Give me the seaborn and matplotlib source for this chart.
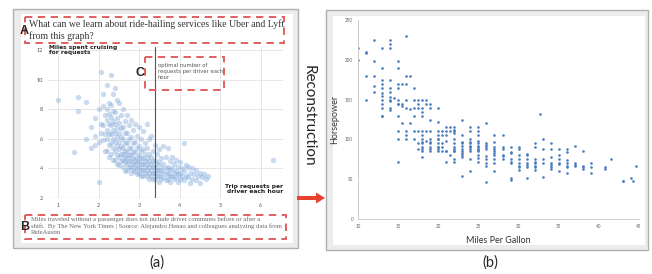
import pandas as pd
import seaborn as sns
import matplotlib.pyplot as plt
from matplotlib.patches import Rectangle, FancyArrow

# ---- panel (a): miles cruising vs trip requests ----
trip_levels = [1.0, 1.4, 1.5, 1.7, 1.8, 1.9,
               2.0, 2.05, 2.1, 2.15, 2.2, 2.25, 2.3, 2.35, 2.4, 2.45, 2.5, 2.55,
               2.6, 2.65, 2.7, 2.75, 2.8, 2.85, 2.9, 2.95, 3.0, 3.05, 3.1, 3.15,
               3.2, 3.25, 3.3, 3.35, 3.4, 3.45, 3.5, 3.55, 3.6, 3.65, 3.7, 3.75,
               3.8, 3.85, 3.9, 3.95, 4.0, 4.05, 4.1, 4.15, 4.2, 4.25, 4.3, 4.35,
               4.4, 4.45, 4.5, 4.55, 4.6, 4.65, 4.7, 6.3]
cruise_by_level = [
    [8.6], [5.1], [7.9, 8.8], [8.5, 6.0], [5.4, 6.8], [6.2, 7.4, 5.6],
    [3.1, 8.0, 5.8], [10.5, 6.4, 7.0],
    [8.2, 6.9, 5.9, 9.0], [7.6, 6.3, 5.2],
    [9.6, 8.0, 7.3, 6.6, 6.0, 5.2], [8.4, 7.7, 7.0, 6.3, 5.6, 4.8],
    [10.3, 8.3, 7.5, 6.9, 6.3, 5.7, 5.0], [9.0, 7.9, 7.2, 6.6, 6.0, 5.4, 4.6],
    [9.4, 7.8, 7.0, 6.4, 5.8, 5.2, 4.6], [8.6, 7.4, 6.7, 6.1, 5.5, 4.9, 4.3],
    [8.4, 7.1, 6.4, 5.8, 5.3, 4.8, 4.2], [7.6, 6.7, 6.1, 5.5, 5.0, 4.5],
    [8.0, 6.8, 6.0, 5.4, 5.0, 4.6, 4.1], [7.2, 6.4, 5.7, 5.2, 4.8, 4.4, 3.8],
    [7.6, 6.4, 5.7, 5.1, 4.7, 4.3, 3.9], [6.9, 6.0, 5.4, 4.9, 4.5, 4.1],
    [7.3, 6.1, 5.4, 4.9, 4.5, 4.1, 3.7], [6.6, 5.7, 5.1, 4.7, 4.3, 3.9],
    [7.0, 5.8, 5.1, 4.6, 4.2, 3.8], [6.2, 5.4, 4.8, 4.4, 4.0, 3.6],
    [6.8, 5.5, 4.9, 4.5, 4.1, 3.7], [6.0, 5.2, 4.7, 4.3, 3.9, 3.5],
    [6.5, 5.3, 4.7, 4.3, 3.9, 3.5], [5.7, 5.0, 4.5, 4.1, 3.7],
    [7.0, 5.4, 4.7, 4.3, 3.9, 3.5], [6.0, 5.0, 4.5, 4.1, 3.7, 3.3],
    [6.2, 4.8, 4.3, 3.9, 3.5], [5.2, 4.5, 4.1, 3.7, 3.3],
    [5.6, 4.6, 4.1, 3.7, 3.3], [5.0, 4.3, 3.9, 3.5],
    [5.3, 4.4, 3.9, 3.5, 3.1], [4.7, 4.1, 3.7, 3.3],
    [5.5, 4.3, 3.8, 3.4], [4.8, 4.0, 3.6, 3.2],
    [5.4, 4.1, 3.7, 3.3], [4.5, 3.9, 3.5, 3.1],
    [4.8, 4.0, 3.5], [4.3, 3.7, 3.3],
    [4.6, 3.8, 3.4], [4.1, 3.6, 3.1],
    [4.4, 3.7, 3.3], [4.0, 3.5],
    [5.7, 3.8, 3.2], [4.2, 3.5],
    [4.1, 3.4], [3.7, 3.0],
    [4.0, 3.3], [3.6],
    [3.9, 3.2], [3.5],
    [3.7, 3.0], [3.4],
    [3.6], [3.3],
    [3.5], [4.6],
]
a_xticks = [1, 2, 3, 4, 5, 6]
a_yticks = [2, 4, 6, 8, 10, 12]
optimal_trips = 3.4

# ---- panel (b): horsepower vs miles per gallon ----
mpg_levels = [10, 11, 12, 13, 14, 14.5, 15, 15.5, 16, 16.5, 17, 17.5, 18, 18.5, 19,
              20, 20.5, 21, 21.5, 22, 23, 24, 25, 26, 27, 28, 29, 30, 31, 32, 32.7,
              33, 34, 35, 36, 37, 38, 39, 40.8, 41.5, 43, 44, 44.3, 44.6]
hp_by_level = [
    [215, 200], [210, 208, 180, 150], [225, 198, 180, 167, 160],
    [215, 190, 175, 170, 165, 158, 155, 150, 145, 140, 130, 129],
    [225, 220, 215, 175, 165, 160, 153, 150, 148, 140, 137], [152],
    [198, 190, 170, 165, 150, 145, 145, 130, 110, 100, 72], [170, 145, 142, 120],
    [230, 180, 170, 150, 140, 110, 105, 100], [180, 138, 120],
    [165, 150, 140, 130, 110, 100], [150, 140, 145, 110, 95, 88],
    [150, 140, 135, 129, 110, 105, 100, 97, 95, 90, 88, 85, 78],
    [150, 144, 110, 98],
    [145, 140, 125, 110, 100, 97, 95, 90, 88, 85],
    [140, 122, 110, 105, 100, 100, 95, 91, 90, 88, 85],
    [110, 105, 95, 90, 85], [115, 110, 105, 98, 86, 85, 72], [110, 115, 80],
    [115, 112, 110, 108, 100, 95, 90, 88, 86, 85, 76, 72],
    [125, 105, 97, 95, 92, 88, 86, 83, 80, 78, 54],
    [115, 110, 100, 97, 95, 92, 90, 88, 85, 75, 60],
    [115, 110, 105, 98, 95, 92, 90, 88, 87, 85, 80, 77, 71],
    [120, 95, 93, 90, 88, 79, 75, 70, 67, 46],
    [105, 97, 90, 88, 86, 83, 80, 75, 70, 60],
    [105, 90, 88, 80, 75, 79], [90, 84, 83, 75, 72, 70, 52, 49],
    [90, 88, 80, 75, 70, 67, 65, 62], [82, 80, 75, 70, 68, 65, 52],
    [96, 90, 75, 72, 70, 67, 65, 61], [132],
    [100, 88, 75, 70, 53], [95, 88, 78, 70, 68, 65, 63],
    [88, 80, 75, 70, 69, 60], [88, 84, 74, 70, 67, 65, 58],
    [92, 70, 68, 67], [85, 67, 63, 65], [70, 65, 58], [65, 63], [76],
    [48, 48], [52], [48], [67],
]
b_xticks = [10, 15, 20, 25, 30, 35, 40, 45]
b_yticks = [0, 50, 100, 150, 200, 250]

df_a = pd.DataFrame({"trips": trip_levels, "miles": cruise_by_level}).explode("miles")
df_a["miles"] = df_a["miles"].astype(float)
df_b = pd.DataFrame({"mpg": mpg_levels, "hp": hp_by_level}).explode("hp")
df_b["hp"] = df_b["hp"].astype(float)

sns.set_style("white")
plt.rcParams["font.family"] = ["Lato", "DejaVu Sans"]

W, H = 652, 274
fig = plt.figure(figsize=(W / 100, H / 100), dpi=100)


def frame(x0, y0, x1, y1):
    # pixel box (top-left origin) -> figure fraction
    return [x0 / W, 1 - y1 / H, (x1 - x0) / W, (y1 - y0) / H]


# background frames of the two screenshots
bg = fig.add_axes([0, 0, 1, 1])
bg.set_xlim(0, W)
bg.set_ylim(H, 0)
bg.axis("off")
bg.add_patch(Rectangle((13, 9), 285, 239, fc="#ececec", ec="#b0b0b0", lw=1))
bg.add_patch(Rectangle((21, 14), 272, 229, fc="white", ec="none"))
bg.add_patch(Rectangle((326, 10), 322, 240, fc="#ececec", ec="#b0b0b0", lw=1))
bg.add_patch(Rectangle((333, 16), 312, 229, fc="white", ec="none"))

# ---- (a) ----
ax_a = fig.add_axes(frame(48, 47, 283, 198))
ax_a.set_facecolor("none")
sns.scatterplot(data=df_a, x="trips", y="miles", s=15, color="#76a2da", alpha=0.38,
                linewidth=0, ax=ax_a)
ax_a.set_xlim(0.75, 6.55)
ax_a.set_ylim(2, 12.2)
ax_a.set_xticks(a_xticks)
ax_a.set_yticks(a_yticks)
ax_a.set_xlabel("")
ax_a.set_ylabel("")
ax_a.grid(True, color="#e2e2e2", lw=0.6)
ax_a.set_axisbelow(True)
sns.despine(ax=ax_a, left=True, bottom=True)
ax_a.tick_params(length=0, labelsize=4, labelcolor="#555555", pad=3.5)
ax_a.axhline(2, xmax=(218 - 48) / (283 - 48), color="#9a9a9a", lw=0.8)
ax_a.axvline(optimal_trips, color="#555555", lw=0.8)

# ---- (b) ----
ax_b = fig.add_axes(frame(358, 20, 639, 219))
ax_b.set_facecolor("none")
sns.scatterplot(data=df_b, x="mpg", y="hp", s=3.5, color="#4a7bbd", linewidth=0,
                ax=ax_b)
ax_b.set_xlim(10, 45)
ax_b.set_ylim(0, 250)
ax_b.set_xticks(b_xticks)
ax_b.set_yticks(b_yticks)
ax_b.set_xticks(range(10, 46), minor=True)
ax_b.set_yticks(range(0, 251, 10), minor=True)
sns.despine(ax=ax_b)
for side in ["left", "bottom"]:
    ax_b.spines[side].set_color("#c4c4c4")
    ax_b.spines[side].set_linewidth(0.6)
ax_b.tick_params(which="major", labelsize=3.3, labelcolor="#666666", length=2,
                 width=0.5, color="#c4c4c4", pad=1.5)
ax_b.tick_params(which="minor", length=1.2, width=0.4, color="#c4c4c4")
ax_b.set_xlabel("Miles Per Gallon", fontsize=6.5, color="#333333", labelpad=5)
ax_b.set_ylabel("Horsepower", fontsize=6.5, color="#333333", labelpad=4)

# ---- annotations overlay ----
ov = fig.add_axes([0, 0, 1, 1])
ov.set_xlim(0, W)
ov.set_ylim(H, 0)
ov.axis("off")
ov.patch.set_alpha(0)

serif = ["Liberation Serif", "DejaVu Serif"]
ov.text(29, 19.5, "What can we learn about ride-hailing services like Uber and Lyft\nfrom this graph?",
        family=serif, fontsize=7.0, color="#333333", va="top", linespacing=1.25)
ov.text(49, 45, "Miles spent cruising\nfor requests", fontsize=4.3, fontweight="bold",
        color="#222222", va="top", linespacing=1.1, family="DejaVu Sans")
ov.text(158, 63, "optimal number of\nrequests per driver each\nhour", fontsize=3.8,
        color="#555555", va="top", linespacing=1.25, family="DejaVu Sans")
ov.text(283, 184, "Trip requests per\ndriver each hour", fontsize=4.3, fontweight="bold",
        color="#222222", va="top", ha="right", linespacing=1.1, family="DejaVu Sans")
ov.text(31, 216, "Miles traveled without a passenger does not include driver commutes before or after a\n"
        "shift.  By The New York Times | Source: Alejandro Henao and colleagues analyzing data from\n"
        "RideAustin", family=serif, fontsize=4.8, color="#666666", va="top", linespacing=1.3)

box_style = dict(fill=False, ec="#e06060", lw=1.4, ls=(0, (3.8, 2.8)))
ov.add_patch(Rectangle((25, 17), 259, 26, **box_style))
ov.add_patch(Rectangle((145, 57), 79, 33, **box_style))
ov.add_patch(Rectangle((25, 215), 261, 24, **box_style))

lab = dict(fontsize=9, fontweight="bold", ha="center", va="center", family="Liberation Sans")
ov.text(24.5, 31.5, "A", **lab)
ov.text(140, 73, "C", **lab)
ov.text(25, 227, "B", **lab)

ov.text(157, 263, "(a)", fontsize=10.5, ha="center", va="center")
ov.text(490, 263, "(b)", fontsize=10.5, ha="center", va="center")
ov.text(309, 116, "Reconstruction", fontsize=11, rotation=-90, ha="center", va="center")
ov.add_patch(FancyArrow(297, 198, 19, 0, width=4, head_width=11, head_length=9,
                        length_includes_head=False, color="#e8412c", lw=0))

fig.savefig("out.png", dpi=100)
